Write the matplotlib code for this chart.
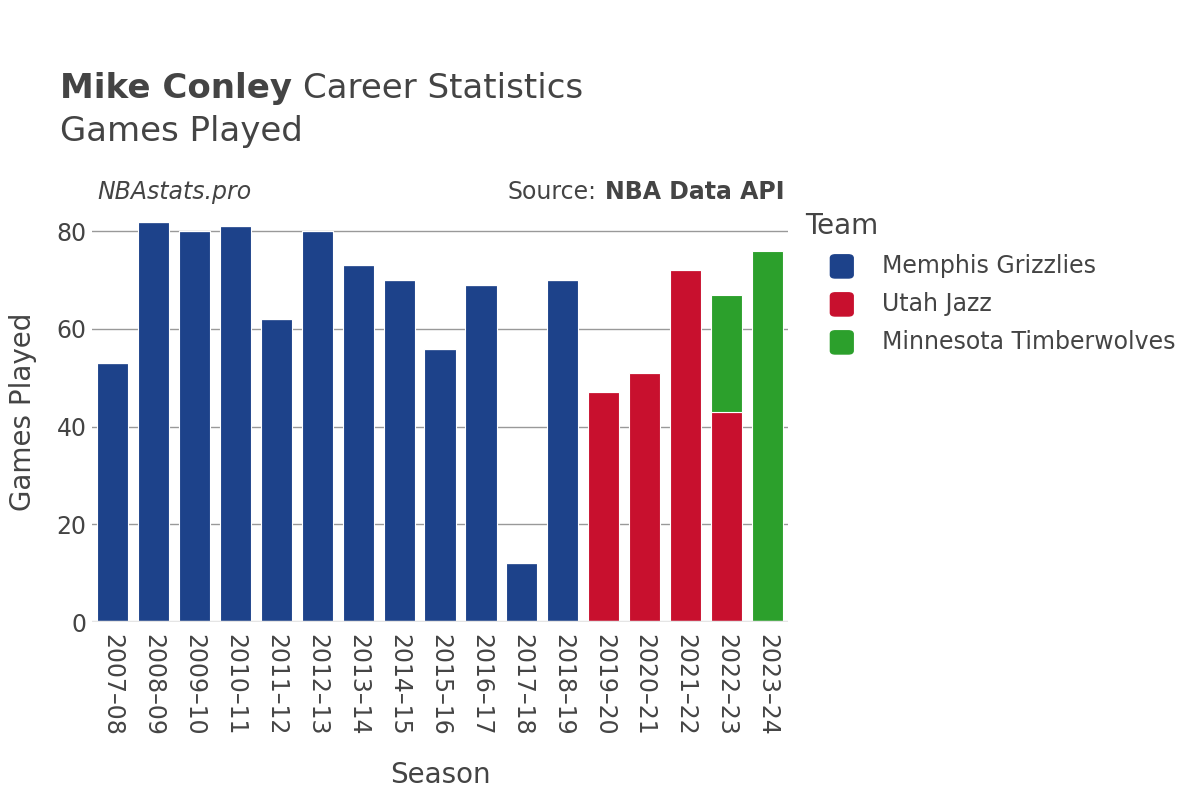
import matplotlib
matplotlib.use("Agg")
import matplotlib.pyplot as plt
from matplotlib.patches import FancyBboxPatch
import numpy as np

# Datos
temporadas = ['2007–08', '2008–09', '2009–10', '2010–11', '2011–12', '2012–13',
              '2013–14', '2014–15', '2015–16', '2016–17', '2017–18', '2018–19',
              '2019–20', '2020–21', '2021–22', '2022–23', '2023–24']
memphis = [53, 82, 80, 81, 62, 80, 73, 70, 56, 69, 12, 70, 0, 0, 0, 0, 0]
utah = [0, 0, 0, 0, 0, 0, 0, 0, 0, 0, 0, 0, 47, 51, 72, 43, 0]
minnesota = [0, 0, 0, 0, 0, 0, 0, 0, 0, 0, 0, 0, 0, 0, 0, 24, 76]

equipos = ['Memphis Grizzlies', 'Utah Jazz', 'Minnesota Timberwolves']
colores = ['#1d428a', '#c8102e', '#2ca02c']
texto = '#444444'

plt.rcParams['font.family'] = ['DejaVu Sans']

fig = plt.figure(figsize=(12, 8), dpi=100)
ax = fig.add_axes([0.0767, 0.2225, 0.58, 0.525])

x = np.arange(len(temporadas))
base = np.zeros(len(temporadas))
for serie, color in zip([memphis, utah, minnesota], colores):
    vals = np.array(serie, dtype=float)
    ax.bar(x, vals, bottom=base, width=0.76, color=color, edgecolor='white',
           linewidth=0.8, zorder=3)
    base += vals

ax.set_xlim(-0.5, len(temporadas) - 0.5)
ax.set_ylim(0, 86)
ax.set_yticks([0, 20, 40, 60, 80])
ax.grid(axis='y', color='#999999', linewidth=1, zorder=0)
ax.axhline(0, color='#e5e5e5', linewidth=2.5, zorder=4)
for s in ax.spines.values():
    s.set_visible(False)
ax.tick_params(length=0, labelsize=17, labelcolor=texto)
ax.tick_params(axis='x', pad=9)
ax.tick_params(axis='y', pad=4)
ax.set_xticks(x)
ax.set_xticklabels(temporadas, rotation=270)
ax.set_xlabel('Season', fontsize=20, color=texto, labelpad=18)
ax.set_ylabel('Games Played', fontsize=20, color=texto, labelpad=14)

# Titulos
fig.canvas.draw()
r = fig.canvas.get_renderer()
t1 = fig.text(0.05, 0.889, 'Mike Conley', fontsize=24.5, fontweight='bold', color=texto, va='center')
w1 = t1.get_window_extent(r).width / 1200
fig.text(0.05 + w1 + 0.009, 0.889, 'Career Statistics', fontsize=24.5, color=texto, va='center')
fig.text(0.05, 0.835, 'Games Played', fontsize=24.5, color=texto, va='center')
fig.text(0.081, 0.76, 'NBAstats.pro', fontsize=17, style='italic', color=texto, va='center')
t2 = fig.text(0.654, 0.76, 'NBA Data API', fontsize=17, fontweight='bold', color=texto,
              va='center', ha='right')
w2 = t2.get_window_extent(r).width / 1200
fig.text(0.654 - w2 - 0.0075, 0.76, 'Source:', fontsize=17, color=texto, va='center', ha='right')

# Leyenda
fig.text(0.671, 0.717, 'Team', fontsize=20, color=texto, va='center')
for i, (eq, c) in enumerate(zip(equipos, colores)):
    yy = 0.667 - i * 0.0475
    fig.patches.append(FancyBboxPatch((0.692, yy - 0.0145), 0.019, 0.029,
                                      boxstyle='round,pad=0,rounding_size=0.004',
                                      transform=fig.transFigure, color=c))
    fig.text(0.735, yy, eq, fontsize=17, color=texto, va='center')

fig.savefig('out.png', dpi=100)
